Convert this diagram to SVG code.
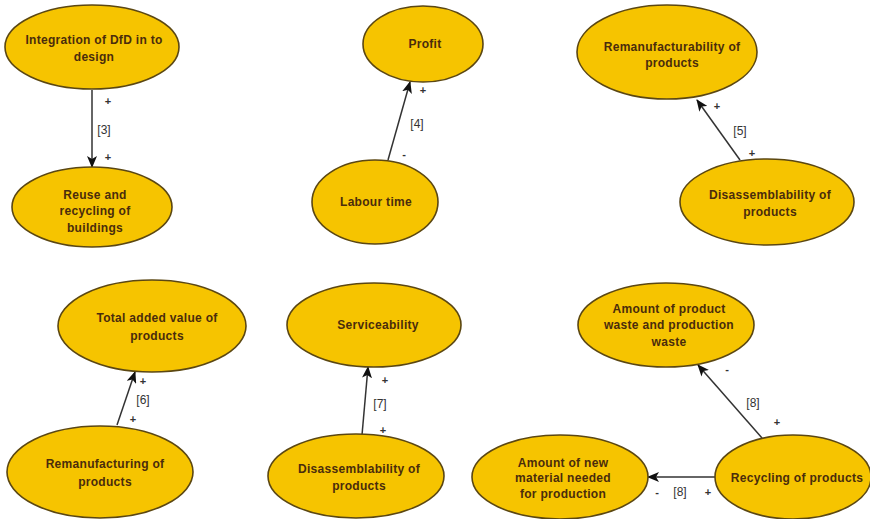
<svg xmlns="http://www.w3.org/2000/svg" width="870" height="519" viewBox="0 0 870 519">
  <style>
    .node ellipse { fill: #f6c400; stroke: #5b4712; stroke-width: 1.6; }
    .node text { font-family: "Liberation Sans", Arial, sans-serif; font-size: 12px; font-weight: bold; fill: #4a2c0c; text-anchor: middle; letter-spacing: 0.3px; }
    .link { stroke: #333; stroke-width: 1.5; fill: none; marker-end: url(#arrow); }
    .lbl { font-family: "Liberation Sans", Arial, sans-serif; font-size: 12px; fill: #333; text-anchor: middle; }
    .sign { font-family: "Liberation Sans", Arial, sans-serif; font-size: 11px; font-weight: bold; fill: #333; text-anchor: middle; }
  </style>
  <defs>
    <marker id="arrow" viewBox="0 0 12 10" refX="11" refY="5" markerWidth="12" markerHeight="10" markerUnits="userSpaceOnUse" orient="auto">
      <path d="M0,0 L12,5 L0,10 L3,5 Z" fill="#111"/>
    </marker>
  </defs>
  <rect width="870" height="519" fill="#fff"/>

  <g id="connectors">
    <line class="link" x1="92" y1="90" x2="92" y2="167"/>
    <line class="link" x1="388" y1="160" x2="410" y2="82"/>
    <line class="link" x1="740" y1="160" x2="697" y2="100"/>
    <line class="link" x1="117" y1="425" x2="135" y2="372"/>
    <line class="link" x1="362" y1="435" x2="368" y2="367"/>
    <line class="link" x1="762" y1="438" x2="698" y2="365"/>
    <line class="link" x1="715" y1="477" x2="648" y2="477"/>

    <text class="sign" x="108" y="105">+</text>
    <text class="lbl" x="104" y="134">[3]</text>
    <text class="sign" x="108" y="161">+</text>

    <text class="sign" x="423" y="94">+</text>
    <text class="lbl" x="417" y="128">[4]</text>
    <text class="sign" x="404" y="158">-</text>

    <text class="sign" x="717" y="110">+</text>
    <text class="lbl" x="740" y="135">[5]</text>
    <text class="sign" x="752" y="157">+</text>

    <text class="sign" x="143" y="385">+</text>
    <text class="lbl" x="143" y="404">[6]</text>
    <text class="sign" x="133" y="423">+</text>

    <text class="sign" x="385" y="384">+</text>
    <text class="lbl" x="380" y="408">[7]</text>
    <text class="sign" x="383" y="434">+</text>

    <text class="sign" x="727" y="373">-</text>
    <text class="lbl" x="753" y="407">[8]</text>
    <text class="sign" x="777" y="426">+</text>

    <text class="sign" x="657" y="496">-</text>
    <text class="lbl" x="680" y="496">[8]</text>
    <text class="sign" x="708" y="496">+</text>
  </g>

  <g id="integration-dfd" class="node">
    <ellipse cx="92" cy="47" rx="87" ry="42"/>
    <text x="94" y="44">Integration of DfD in to</text>
    <text x="94" y="61">design</text>
  </g>
  <g id="reuse-recycling-buildings" class="node">
    <ellipse cx="92" cy="207" rx="80" ry="40"/>
    <text x="95" y="199">Reuse and</text>
    <text x="95" y="215">recycling of</text>
    <text x="95" y="232">buildings</text>
  </g>
  <g id="profit" class="node">
    <ellipse cx="423" cy="44" rx="60" ry="38"/>
    <text x="425" y="48">Profit</text>
  </g>
  <g id="labour-time" class="node">
    <ellipse cx="375" cy="202" rx="63" ry="42"/>
    <text x="376" y="206">Labour time</text>
  </g>
  <g id="remanufacturability" class="node">
    <ellipse cx="667" cy="52" rx="90" ry="47"/>
    <text x="672" y="51">Remanufacturability of</text>
    <text x="672" y="67">products</text>
  </g>
  <g id="disassemblability-top" class="node">
    <ellipse cx="767" cy="202" rx="87" ry="43"/>
    <text x="770" y="199">Disassemblability of</text>
    <text x="770" y="216">products</text>
  </g>
  <g id="total-added-value" class="node">
    <ellipse cx="152" cy="326" rx="94" ry="46"/>
    <text x="157" y="322">Total added value of</text>
    <text x="157" y="340">products</text>
  </g>
  <g id="remanufacturing" class="node">
    <ellipse cx="100" cy="472" rx="93" ry="46"/>
    <text x="105" y="468">Remanufacturing of</text>
    <text x="105" y="486">products</text>
  </g>
  <g id="serviceability" class="node">
    <ellipse cx="374" cy="325" rx="87" ry="42"/>
    <text x="378" y="329">Serviceability</text>
  </g>
  <g id="disassemblability-bottom" class="node">
    <ellipse cx="356" cy="476" rx="88" ry="42"/>
    <text x="359" y="473">Disassemblability of</text>
    <text x="359" y="490">products</text>
  </g>
  <g id="waste-amount" class="node">
    <ellipse cx="666" cy="325" rx="88" ry="42"/>
    <text x="669" y="313">Amount of product</text>
    <text x="669" y="329">waste and production</text>
    <text x="669" y="346">waste</text>
  </g>
  <g id="new-material" class="node">
    <ellipse cx="560" cy="477" rx="88" ry="42"/>
    <text x="563" y="467">Amount of new</text>
    <text x="563" y="482">material needed</text>
    <text x="563" y="498">for production</text>
  </g>
  <g id="recycling-products" class="node">
    <ellipse cx="793" cy="477" rx="78" ry="42"/>
    <text x="797" y="482">Recycling of products</text>
  </g>
</svg>
